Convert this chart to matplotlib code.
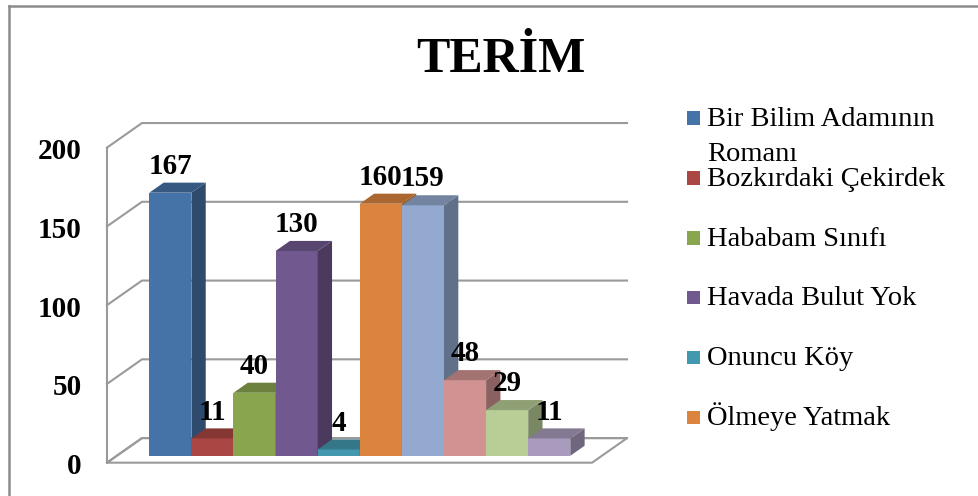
import matplotlib
matplotlib.use('Agg')
import matplotlib.pyplot as plt
from matplotlib.lines import Line2D
from matplotlib.patches import Rectangle, Polygon
import matplotlib.colors as mcolors

plt.rcParams['font.family'] = ['Liberation Serif', 'DejaVu Serif']

# ---- data ----
title = "TERİM"
legend_labels = ["Bir Bilim Adamının\nRomanı", "Bozkırdaki Çekirdek", "Hababam Sınıfı",
                 "Havada Bulut Yok", "Onuncu Köy", "Ölmeye Yatmak"]
values = [167, 11, 40, 130, 4, 160, 159, 48, 29, 11]
colors = ['#4572A7', '#AA4643', '#89A54E', '#71588F', '#4198AF',
          '#DB843D', '#93A9CF', '#D19392', '#B9CD96', '#A99BBD']
yticks = [0, 50, 100, 150, 200]

# ---- layout ----
W, H = 979, 496
fig = plt.figure(figsize=(W / 100, H / 100), dpi=100)
ax = fig.add_axes([0, 0, 1, 1])
ax.set_xlim(-3.546, 19.708)
ax.set_ylim(-25.52, 289.33)
ax.axis('off')

n = len(values)
DX, DY = 0.831, 15.6       # full depth of the plot box in data units
tf, tb = 0.28, 0.69        # bar front / back depth fractions
FX0, FY0 = -tf * DX, -tf * DY
BX, BY = (1 - tf) * DX, (1 - tf) * DY
bdx, bdy = (tb - tf) * DX, (tb - tf) * DY
xl, xr = -0.772, n + 0.75
ymax = yticks[-1]

grid_c = '#9A9A9A'
glw = 1.5

# floor
floor = Polygon([(xl + FX0, FY0), (xr + FX0, FY0), (xr + BX, BY), (xl + BX, BY)],
                closed=True, facecolor='white', edgecolor=grid_c, lw=glw, zorder=1)
ax.add_patch(floor)
# left wall front edge
ax.plot([xl + FX0, xl + FX0], [FY0, ymax + FY0], color=grid_c, lw=glw, zorder=1)
# gridlines: side wall + back wall
for v in yticks:
    ax.plot([xl + FX0, xl + BX, xr + BX], [v + FY0, v + BY, v + BY],
            color=grid_c, lw=glw, zorder=1, solid_joinstyle='miter')


def shade(c, f):
    r, g, b = mcolors.to_rgb(c)
    return (r * f, g * f, b * f)


# bars
for i, (v, c) in enumerate(zip(values, colors)):
    z = 10 + i * 3
    ax.bar(i, v, width=1.0, align='edge', color=c, edgecolor='none', zorder=z)
    side = Polygon([(i + 1, 0), (i + 1 + bdx, bdy), (i + 1 + bdx, v + bdy), (i + 1, v)],
                   closed=True, facecolor=shade(c, 0.66), edgecolor='none', zorder=z + 1)
    top = Polygon([(i, v), (i + 1, v), (i + 1 + bdx, v + bdy), (i + bdx, v + bdy)],
                  closed=True, facecolor=shade(c, 0.78), edgecolor='none', zorder=z + 1)
    ax.add_patch(side)
    ax.add_patch(top)

for i, v in enumerate(values):
    ax.text(i + 0.5, v + 12, str(v), ha='center', va='baseline', fontsize=21,
            fontweight='bold', color='black', zorder=200)

# y tick labels
for v in yticks:
    ax.text(xl + FX0 - 25 / 42.1, v + FY0 - 2.5, str(v), ha='right', va='center',
            fontsize=21, fontweight='bold', color='black')

# title
fig.text(501 / W, 1 - 72 / H, title, ha='center', va='baseline', fontsize=36,
         fontweight='bold', color='black')

# legend
centers = [118, 178, 238, 297, 357, 417]
for lab, c, cy in zip(legend_labels, colors, centers):
    fig.patches.append(Rectangle((687 / W, 1 - (cy + 6.5) / H), 13 / W, 13 / H,
                                 transform=fig.transFigure, facecolor=c, edgecolor='none'))
    lines = lab.split('\n')
    for k, line in enumerate(lines):
        fig.text(707 / W, 1 - (cy + 7.7 + 35 * k) / H, line, ha='left', va='baseline',
                 fontsize=20.5, color='black')

# chart border
bc = '#8C8C8C'
fig.lines.append(Line2D([9 / W, 1], [1 - 6 / H, 1 - 6 / H], transform=fig.transFigure,
                        color=bc, lw=1.8))
fig.lines.append(Line2D([9 / W, 9 / W], [1 - 6 / H, 0], transform=fig.transFigure,
                        color=bc, lw=1.8))

fig.savefig('out.png', dpi=100)
